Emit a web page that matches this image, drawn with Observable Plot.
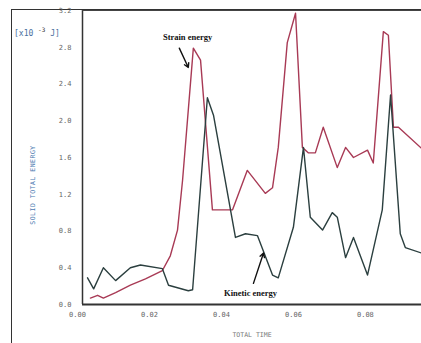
<!DOCTYPE html>
<html>
<head>
<meta charset="utf-8">
<script src="https://cdn.jsdelivr.net/npm/d3@7"></script>
<script src="https://cdn.jsdelivr.net/npm/@observablehq/plot@0.6"></script>
<style>
  html, body { margin: 0; padding: 0; background: #fff; overflow: hidden; }
  #wrap { position: relative; width: 421px; height: 343px; overflow: hidden; }
  #outer { position: absolute; left: 11px; top: 9px; width: 500px; height: 400px;
           border-left: 1.5px solid #333; border-top: 1.5px solid #333; }
  #unit { position: absolute; left: 14px; top: 26px; font: 8px "DejaVu Sans Mono", monospace; color: #4a6fa0; }
  #unit sup { font-size: 6px; color: #333; }
  #ytitle { position: absolute; left: 33px; top: 185px; transform: translate(-50%, -50%) rotate(-90deg);
            font: 6.5px "DejaVu Sans Mono", monospace; color: #4a78b0; white-space: nowrap; letter-spacing: 0.5px; }
  #chart { position: absolute; left: 0; top: 0; }
</style>
</head>
<body>
<div id="wrap">
  <div id="outer"></div>
  <div id="chart"></div>
  <div id="unit">[x10 <sup>-3</sup> J]</div>
  <div id="ytitle">SOLID TOTAL ENERGY</div>
</div>
<script>
// Strain energy (red curve): time, energy [x10^-3 J]
const strainT = [0.0022,0.0042,0.0058,0.0092,0.0133,0.0175,0.0222,0.0244,0.0264,0.0278,0.0308,0.0328,0.0361,0.0417,0.0458,0.0508,0.0528,0.0544,0.0569,0.0592,0.0611,0.0628,0.0647,0.0669,0.0708,0.0731,0.0753,0.0792,0.0808,0.0836,0.0850,0.0864,0.0878,0.0942];
const strainE = [0.07,0.10,0.07,0.13,0.21,0.28,0.37,0.53,0.81,1.35,2.79,2.66,1.03,1.03,1.46,1.21,1.27,1.71,2.85,3.17,1.71,1.65,1.65,1.93,1.49,1.71,1.60,1.68,1.54,2.97,2.93,1.93,1.93,1.70];
// Kinetic energy (dark curve)
const kinT = [0.0014,0.0031,0.0058,0.0092,0.0133,0.0161,0.0222,0.0239,0.0294,0.0306,0.0347,0.0364,0.0425,0.0453,0.0486,0.0528,0.0544,0.0586,0.0614,0.0633,0.0667,0.0694,0.0708,0.0731,0.0753,0.0792,0.0833,0.0856,0.0883,0.0897,0.0942];
const kinE = [0.29,0.17,0.40,0.26,0.40,0.43,0.39,0.21,0.15,0.16,2.25,2.06,0.73,0.77,0.75,0.32,0.29,0.84,1.71,0.95,0.81,1.00,0.95,0.51,0.73,0.32,1.03,2.28,0.77,0.62,0.56];

const xTicks = [0, 0.02, 0.04, 0.06, 0.08];
const xTickLabels = ["0.00", "0.02", "0.04", "0.06", "0.08"];
const yTicks = [0, 0.4, 0.8, 1.2, 1.6, 2.0, 2.4, 2.8, 3.2];

const labelNames = ["Strain energy", "Kinetic energy"];
const labelT = [0.0292, 0.0467];
const labelE = [2.91, 0.12];
const arrowT1 = [0.0269, 0.0475];
const arrowE1 = [2.79, 0.23];
const arrowT2 = [0.0294, 0.0503];
const arrowE2 = [2.58, 0.56];

const strain = strainT.map((t, i) => ({t, e: strainE[i]}));
const kinetic = kinT.map((t, i) => ({t, e: kinE[i]}));
const labels = labelNames.map((name, i) => ({name, t: labelT[i], e: labelE[i]}));
const arrows = labelNames.map((name, i) => ({x1: arrowT1[i], y1: arrowE1[i], x2: arrowT2[i], y2: arrowE2[i]}));

const chart = Plot.plot({
  width: 421,
  height: 343,
  marginLeft: 82,
  marginRight: 0,
  marginTop: 10,
  marginBottom: 39,
  style: {background: "transparent", fontFamily: "DejaVu Sans Mono, monospace", fontSize: "7px", color: "#666", overflow: "hidden"},
  x: {domain: [0, 0.0942], ticks: xTicks, tickFormat: (d, i) => xTickLabels[i], tickSize: 0, tickPadding: 8, label: null},
  y: {domain: [0, 3.2], ticks: yTicks, tickFormat: d3.format(".1f"), tickSize: 0, tickPadding: 11, label: null},
  marks: [
    Plot.ruleX([0], {stroke: "#333", strokeWidth: 1.5}),
    Plot.ruleY([0], {stroke: "#333", strokeWidth: 2}),
    Plot.ruleY([3.2], {stroke: "#444", strokeWidth: 1.2}),
    Plot.line(strain, {x: "t", y: "e", stroke: "#a83a55", strokeWidth: 1.4}),
    Plot.line(kinetic, {x: "t", y: "e", stroke: "#2b3f3f", strokeWidth: 1.4}),
    Plot.arrow(arrows, {x1: "x1", y1: "y1", x2: "x2", y2: "y2", stroke: "#111", strokeWidth: 1.4, headLength: 5}),
    Plot.text(labels, {x: "t", y: "e", text: "name", fontFamily: "Liberation Serif, serif", fontWeight: "bold", fontSize: 8.5, fill: "#111"}),
    Plot.text(["TOTAL TIME"], {frameAnchor: "bottom", dy: 32, fill: "#777", fontSize: 6.5})
  ]
});
chart.querySelectorAll('g[aria-label="x-axis tick label"] text').forEach(t => t.setAttribute("dx", "-5"));
document.getElementById("chart").appendChild(chart);
</script>
</body>
</html>
